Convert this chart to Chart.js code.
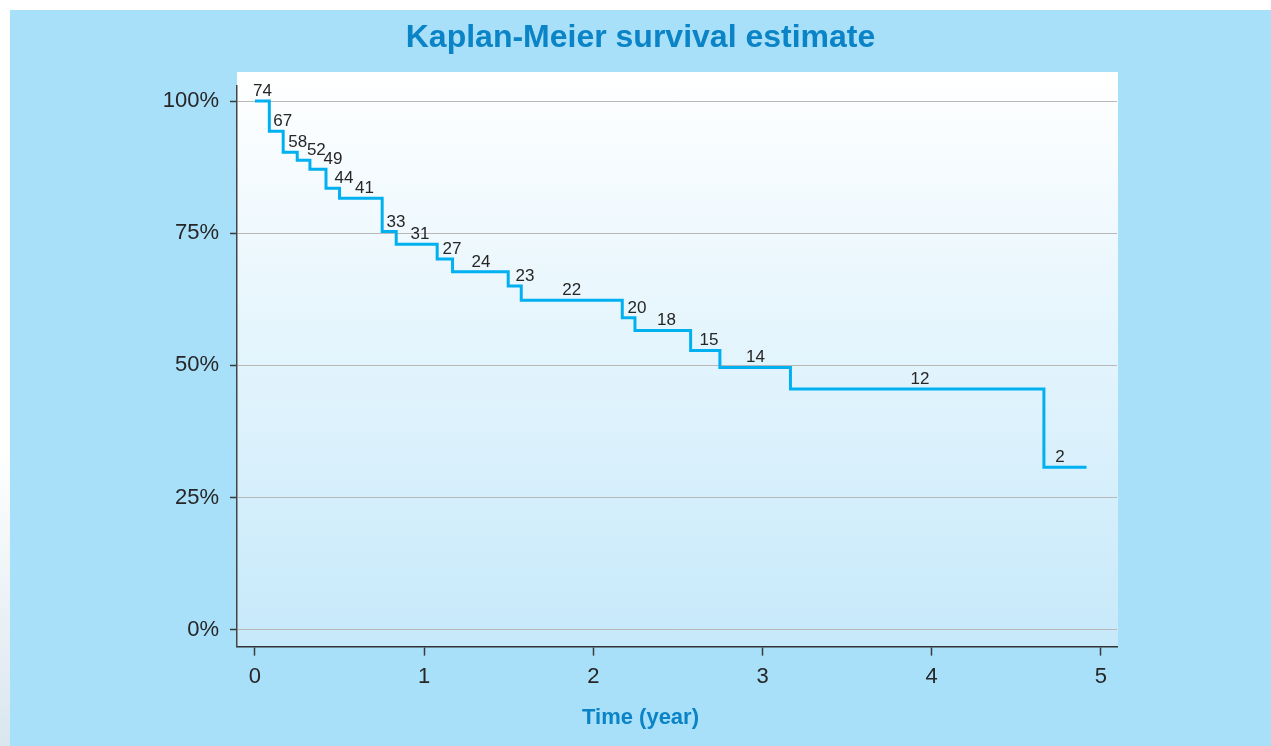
<!DOCTYPE html>
<html>
<head>
<meta charset="utf-8">
<title>Kaplan-Meier survival estimate</title>
<script src="https://cdn.jsdelivr.net/npm/chart.js@4.4.1/dist/chart.umd.min.js"></script>
<style>
    html, body {
        margin: 0;
        padding: 0;
        width: 1271px;
        height: 746px;
        overflow: hidden;
        background: linear-gradient(to bottom, #ffffff 0%, #ffffff 60%, #d9e6ee 100%);
    }
    .panel {
        position: absolute;
        left: 10px;
        top: 10px;
        width: 1261px;
        height: 736px;
        background: #a8dff9;
    }
</style>
</head>
<body>
<div class="panel">
    <canvas id="kmChart" width="1261" height="736"></canvas>
</div>
<script>
// Tiempos de los eventos (años) y supervivencia estimada (%)
const times = [0, 0.085, 0.167, 0.25, 0.325, 0.42, 0.5, 0.752, 0.835, 1.077, 1.168,
    1.497, 1.574, 2.171, 2.246, 2.575, 2.748, 3.165, 4.663, 4.915];
const survival = [100, 94.3, 90.3, 88.8, 87.1, 83.5, 81.6, 75.3, 72.9, 70.1, 67.7,
    65.0, 62.3, 59.0, 56.6, 52.8, 49.6, 45.5, 30.7, 30.7];

// Número en riesgo, uno por tramo, y dónde va cada etiqueta (años)
const atRisk = [74, 67, 58, 52, 49, 44, 41, 33, 31, 27, 24, 23, 22, 20, 18, 15, 14, 12, 2];
const atRiskTimes = [0.044, 0.164, 0.253, 0.363, 0.461, 0.526, 0.647, 0.833, 0.975, 1.164,
    1.336, 1.596, 1.872, 2.258, 2.432, 2.683, 2.958, 3.930, 4.758];

const xTicks = [0, 1, 2, 3, 4, 5];
const yTicks = [0, 25, 50, 75, 100];

const blue = '#0a84c6';
const lineColor = '#00b0f0';
const textColor = '#262626';
const fontFamily = '"Liberation Sans", Arial, Helvetica, sans-serif';

// Fondo degradado del área de trazado
const plotBackground = {
    id: 'plotBackground',
    beforeDraw(chart) {
        const { ctx, chartArea } = chart;
        const top = chartArea.top - 14;
        const grad = ctx.createLinearGradient(0, top, 0, chartArea.bottom);
        grad.addColorStop(0, '#ffffff');
        grad.addColorStop(1, '#c6e9fa');
        ctx.save();
        ctx.fillStyle = grad;
        ctx.fillRect(chartArea.left, top, chartArea.right - chartArea.left + 1, chartArea.bottom - top);
        ctx.restore();
    }
};

// Etiquetas del número en riesgo encima de cada tramo
const riskLabels = {
    id: 'riskLabels',
    afterDatasetsDraw(chart) {
        const { ctx, scales } = chart;
        ctx.save();
        ctx.font = '17px ' + fontFamily;
        ctx.fillStyle = textColor;
        ctx.textAlign = 'center';
        ctx.textBaseline = 'alphabetic';
        atRisk.forEach((n, i) => {
            const x = scales.x.getPixelForValue(atRiskTimes[i]);
            const y = scales.y.getPixelForValue(survival[i]) - 5;
            ctx.fillText(String(n), x, y);
        });
        ctx.restore();
    }
};

function createChart() {
    const ctx = document.getElementById('kmChart').getContext('2d');

    new Chart(ctx, {
        type: 'line',
        data: {
            datasets: [{
                data: times.map((t, i) => ({ x: t, y: survival[i] })),
                borderColor: lineColor,
                borderWidth: 3,
                stepped: 'before',
                pointRadius: 0,
                fill: false,
                borderCapStyle: 'butt',
                borderJoinStyle: 'miter'
            }]
        },
        options: {
            responsive: false,
            animation: false,
            devicePixelRatio: 1,
            layout: { padding: 0 },
            plugins: {
                legend: { display: false },
                tooltip: { enabled: false },
                title: {
                    display: true,
                    text: 'Kaplan-Meier survival estimate',
                    color: blue,
                    font: { family: fontFamily, size: 32, weight: 'bold' },
                    padding: { top: 9, bottom: 28.6 }
                },
                subtitle: {
                    display: true,
                    position: 'bottom',
                    text: 'Time (year)',
                    color: blue,
                    font: { family: fontFamily, size: 22, weight: 'bold' },
                    padding: { top: 10, bottom: 15 }
                }
            },
            scales: {
                x: {
                    type: 'linear',
                    min: -0.106,
                    max: 5.095,
                    afterBuildTicks: s => { s.ticks = xTicks.map(v => ({ value: v })); },
                    afterFit: s => { s.height = 48; },
                    grid: {
                        drawOnChartArea: false,
                        drawTicks: true,
                        tickLength: 9,
                        tickColor: '#3a3a3a',
                        tickWidth: 1.5
                    },
                    border: { display: true, color: '#333333', width: 1.5 },
                    ticks: {
                        color: textColor,
                        padding: 8,
                        maxRotation: 0,
                        autoSkip: false,
                        font: { family: fontFamily, size: 22 }
                    }
                },
                y: {
                    type: 'linear',
                    min: -3.22,
                    max: 102.84,
                    afterBuildTicks: s => { s.ticks = yTicks.map(v => ({ value: v })); },
                    afterFit: s => { s.width = 227; },
                    grid: {
                        color: '#b8b8b8',
                        lineWidth: 1,
                        drawTicks: true,
                        tickLength: 7,
                        tickColor: '#3a3a3a',
                        tickWidth: 1.5
                    },
                    border: { display: true, color: '#444444', width: 1.5 },
                    ticks: {
                        color: textColor,
                        padding: 11,
                        autoSkip: false,
                        font: { family: fontFamily, size: 22 },
                        callback: v => v + '%'
                    }
                },
                yRight: {
                    type: 'linear',
                    position: 'right',
                    display: true,
                    afterFit: s => { s.width = 154; },
                    grid: { display: false },
                    border: { display: false },
                    ticks: { display: false }
                }
            }
        },
        plugins: [plotBackground, riskLabels]
    });
}

document.addEventListener('DOMContentLoaded', createChart);
</script>
</body>
</html>
